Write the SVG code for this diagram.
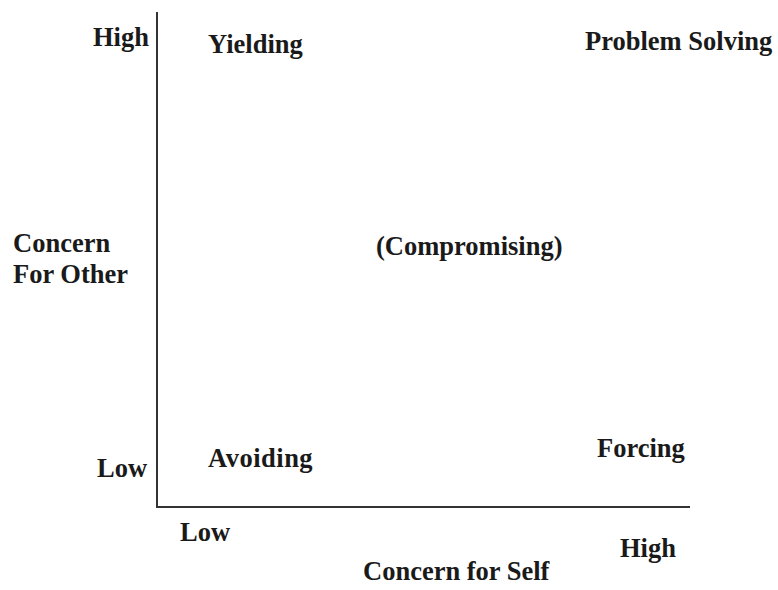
<svg xmlns="http://www.w3.org/2000/svg" width="778" height="590" viewBox="0 0 778 590">
<style>
text{font-family:"Liberation Serif","Times New Roman",serif;font-weight:bold;font-size:26.5px;fill:#1a1a1a}
.axis{stroke:#333;stroke-width:2;fill:none}
</style>
<rect width="778" height="590" fill="#fff"/>
<g id="axes" class="connectors">
<path class="axis" d="M157,12 V507 H690"/>
</g>
<g id="y-high"><text x="93" y="46">High</text></g>
<g id="y-low"><text x="97" y="477">Low</text></g>
<g id="y-label"><text x="13" y="252">Concern</text><text x="13" y="283">For Other</text></g>
<g id="x-low"><text x="180" y="541">Low</text></g>
<g id="x-high"><text x="620" y="557">High</text></g>
<g id="x-label"><text x="363" y="580">Concern for Self</text></g>
<g id="yielding"><text x="208" y="53">Yielding</text></g>
<g id="problem-solving"><text x="585" y="50">Problem Solving</text></g>
<g id="compromising"><text x="376" y="255">(Compromising)</text></g>
<g id="avoiding"><text x="208" y="467" letter-spacing="0.5">Avoiding</text></g>
<g id="forcing"><text x="597" y="457">Forcing</text></g>
</svg>
